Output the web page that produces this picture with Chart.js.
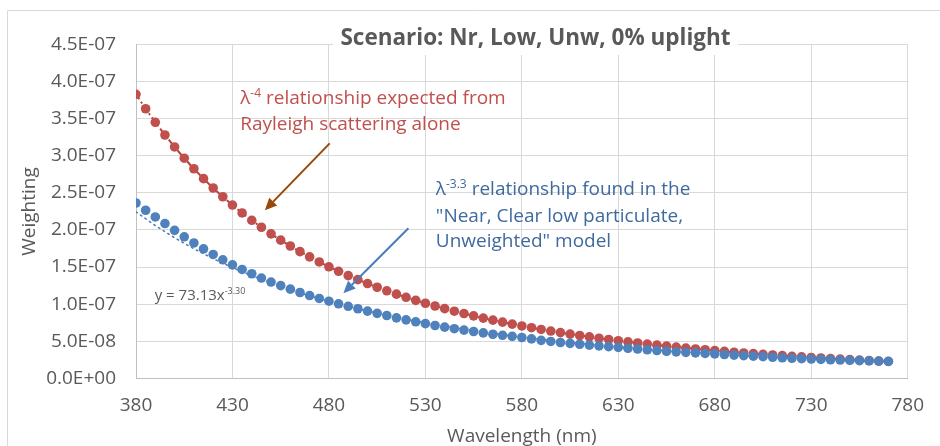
<!DOCTYPE html>
<html lang="en">
<head>
  <meta charset="UTF-8">
  <title>Scenario: Nr, Low, Unw, 0% uplight</title>
  <style>
    body {
      margin: 0;
      background: #fff;
    }
    #wrap {
      width: 940px;
      height: 446px;
    }
  </style>
</head>
<body>
  <div id="wrap">
    <canvas id="myChart" width="940" height="446"></canvas>
  </div>

  <script src="https://cdn.jsdelivr.net/npm/chart.js"></script>
  <script>
    // wavelengths (nm), one point every 5 nm
    const wavelengths = [];
    for (let w = 380; w <= 770; w += 5) wavelengths.push(w);

    // weighting values, in units of 1E-07
    const redWeights = [
      3.830, 3.635, 3.452, 3.281, 3.120, 2.968, 2.826, 2.692, 2.566, 2.448,
      2.336, 2.230, 2.131, 2.037, 1.948, 1.863, 1.784, 1.708, 1.637, 1.569,
      1.504, 1.443, 1.385, 1.330, 1.278, 1.228, 1.180, 1.135, 1.092, 1.051,
      1.012, 0.975, 0.939, 0.905, 0.873, 0.842, 0.812, 0.784, 0.757, 0.731,
      0.706, 0.682, 0.659, 0.637, 0.616, 0.596, 0.577, 0.558, 0.540, 0.523,
      0.507, 0.491, 0.476, 0.461, 0.447, 0.434, 0.421, 0.408, 0.396, 0.385,
      0.374, 0.363, 0.352, 0.342, 0.333, 0.323, 0.314, 0.306, 0.297, 0.289,
      0.281, 0.274, 0.266, 0.259, 0.252, 0.246, 0.239, 0.233, 0.227
    ];
    const blueWeights = [
      2.364, 2.266, 2.176, 2.087, 1.995, 1.908, 1.825, 1.745, 1.670, 1.598,
      1.530, 1.468, 1.410, 1.352, 1.298, 1.250, 1.202, 1.157, 1.116, 1.077,
      1.040, 1.005, 0.971, 0.938, 0.906, 0.876, 0.846, 0.815, 0.788, 0.762,
      0.737, 0.712, 0.690, 0.669, 0.650, 0.631, 0.612, 0.594, 0.580, 0.566,
      0.550, 0.532, 0.512, 0.497, 0.483, 0.471, 0.459, 0.448, 0.437, 0.427,
      0.417, 0.405, 0.395, 0.384, 0.374, 0.365, 0.357, 0.350, 0.343, 0.336,
      0.329, 0.321, 0.313, 0.306, 0.299, 0.292, 0.284, 0.277, 0.270, 0.265,
      0.260, 0.255, 0.250, 0.246, 0.243, 0.239, 0.236, 0.232, 0.229
    ];

    // power trendline y = 73.13x^-3.30, read every 10 nm (units of 1E-07)
    const trendWavelengths = [];
    for (let w = 380; w <= 770; w += 10) trendWavelengths.push(w);
    const blueTrend = [
      2.245, 2.059, 1.895, 1.747, 1.613, 1.493, 1.384, 1.285, 1.195, 1.113,
      1.039, 0.970, 0.908, 0.850, 0.797, 0.749, 0.704, 0.663, 0.624, 0.589,
      0.556, 0.526, 0.497, 0.471, 0.446, 0.423, 0.402, 0.382, 0.363, 0.345,
      0.329, 0.314, 0.299, 0.285, 0.273, 0.260, 0.249, 0.238, 0.228, 0.218
    ];

    const xTicks = [380, 430, 480, 530, 580, 630, 680, 730, 780];
    const yUnit = 1e-7;

    const GREY = '#595959';
    const FONT = '"Open Sans", sans-serif';

    function sciLabel(v) {
      const val = v * yUnit;
      if (Math.abs(val) < 1e-15) return '0.0E+00';
      let e = Math.floor(Math.log10(Math.abs(val)) + 1e-9);
      let m = Math.round(val / Math.pow(10, e) * 10) / 10;
      if (m >= 10) { m /= 10; e++; }
      return m.toFixed(1) + 'E' + (e < 0 ? '-' : '+') + String(Math.abs(e)).padStart(2, '0');
    }

    function pts(xs, ys) {
      return xs.map((x, i) => ({ x: x, y: ys[i] }));
    }

    // text with a superscript part: [base, sup, rest]
    function supText(ctx, x, y, base, sup, rest, size, color) {
      ctx.fillStyle = color;
      ctx.textBaseline = 'alphabetic';
      ctx.textAlign = 'left';
      ctx.font = size + 'px ' + FONT;
      ctx.fillText(base, x, y);
      x += ctx.measureText(base).width;
      ctx.font = Math.round(size * 0.62) + 'px ' + FONT;
      ctx.fillText(sup, x, y - size * 0.38);
      x += ctx.measureText(sup).width;
      ctx.font = size + 'px ' + FONT;
      ctx.fillText(rest, x, y);
    }

    function arrow(ctx, x1, y1, x2, y2, color) {
      const a = Math.atan2(y2 - y1, x2 - x1);
      const len = 12, half = 5.5;
      const bx = x2 - len * Math.cos(a), by = y2 - len * Math.sin(a);
      ctx.strokeStyle = color;
      ctx.fillStyle = color;
      ctx.lineWidth = 2;
      ctx.beginPath();
      ctx.moveTo(x1, y1);
      ctx.lineTo(bx, by);
      ctx.stroke();
      ctx.beginPath();
      ctx.moveTo(x2, y2);
      ctx.lineTo(bx + half * Math.sin(a), by - half * Math.cos(a));
      ctx.lineTo(bx - half * Math.sin(a), by + half * Math.cos(a));
      ctx.closePath();
      ctx.fill();
    }

    const decorations = {
      id: 'decorations',
      beforeDraw(chart) {
        const ctx = chart.ctx;
        ctx.save();
        ctx.fillStyle = '#fff';
        ctx.fillRect(0, 0, chart.width, chart.height);
        ctx.strokeStyle = '#d9d9d9';
        ctx.lineWidth = 1;
        ctx.beginPath();
        ctx.moveTo(7.5, chart.height + 5);
        ctx.lineTo(7.5, 10.5);
        ctx.lineTo(chart.width + 5, 10.5);
        ctx.stroke();
        ctx.restore();
      },
      afterDraw(chart) {
        const ctx = chart.ctx;
        const xs = chart.scales.x, ys = chart.scales.y;
        const area = chart.chartArea;
        const px = v => xs.getPixelForValue(v);
        const py = v => ys.getPixelForValue(v);
        ctx.save();

        // title with its white box over the grid
        ctx.fillStyle = '#fff';
        ctx.fillRect(333, 18, 405, 37);
        ctx.fillStyle = GREY;
        ctx.font = 'bold 22.5px ' + FONT;
        ctx.textAlign = 'center';
        ctx.textBaseline = 'alphabetic';
        ctx.fillText('Scenario: Nr, Low, Unw, 0% uplight', 535.5, 45);

        // axis titles
        ctx.font = '19px ' + FONT;
        ctx.textBaseline = 'middle';
        ctx.fillText('Wavelength (nm)', (area.left + area.right) / 2, 437);
        ctx.save();
        ctx.translate(30, (area.top + area.bottom) / 2);
        ctx.rotate(-Math.PI / 2);
        ctx.fillText('Weighting', 0, 0);
        ctx.restore();

        // annotations
        const red = '#c0504d', blue = '#3f6a9e';
        supText(ctx, px(434), py(3.787) + 7, '\u03bb', '-4', ' relationship expected from', 19, red);
        ctx.fillText('Rayleigh scattering alone', px(434), py(3.437) + 7);
        arrow(ctx, px(480.4), py(3.168), px(446.8), py(2.266), '#984807');

        supText(ctx, px(535.4), py(2.563) + 7, '\u03bb', '-3.3', ' relationship found in the', 19, blue);
        ctx.fillText('"Near, Clear low particulate,', px(535.4), py(2.199) + 7);
        ctx.fillText('Unweighted" model', px(535.4), py(1.862) + 7);
        arrow(ctx, px(521.2), py(2.023), px(487.5), py(1.148), '#4a7ebb');

        supText(ctx, px(389.7), py(1.121) + 5, 'y = 73.13x', '-3.30', '', 15, GREY);
        ctx.restore();
      }
    };

    const ctx = document.getElementById('myChart').getContext('2d');
    new Chart(ctx, {
      type: 'line',
      data: {
        datasets: [
          {
            label: 'Near, Clear low particulate, Unweighted',
            data: pts(wavelengths, blueWeights),
            showLine: false,
            pointRadius: 4.8,
            pointBorderWidth: 0,
            pointBackgroundColor: '#4f81bd',
            order: 0
          },
          {
            label: 'Rayleigh',
            data: pts(wavelengths, redWeights),
            showLine: false,
            pointRadius: 4.8,
            pointBorderWidth: 0,
            pointBackgroundColor: '#c0504d',
            order: 1
          },
          {
            label: 'Power trend (blue)',
            data: pts(trendWavelengths, blueTrend),
            borderColor: '#4f81bd',
            borderWidth: 1.6,
            borderDash: [1.5, 4],
            borderCapStyle: 'round',
            pointRadius: 0,
            order: 2
          },
          {
            label: 'Power trend (red)',
            data: pts(wavelengths, redWeights),
            borderColor: '#b8413e',
            borderWidth: 2,
            borderDash: [6, 3, 2, 3],
            pointRadius: 0,
            order: 3
          }
        ]
      },
      options: {
        responsive: false,
        animation: false,
        layout: { padding: { left: 0, right: 19, top: 44.6, bottom: 0 } },
        plugins: {
          legend: { display: false },
          tooltip: { enabled: false }
        },
        scales: {
          x: {
            type: 'linear',
            min: 380,
            max: 780,
            afterBuildTicks: s => { s.ticks = xTicks.map(v => ({ value: v })); },
            afterFit: s => { s.height = 446 - 378.3; },
            grid: { color: '#d9d9d9', drawTicks: false },
            border: { color: '#bfbfbf' },
            ticks: { color: GREY, font: { family: FONT, size: 19 }, padding: 16, maxRotation: 0 }
          },
          y: {
            min: 0,
            max: 4.5,
            afterFit: s => { s.width = 136; },
            grid: { color: '#d9d9d9', drawTicks: false },
            border: { color: '#bfbfbf' },
            ticks: {
              stepSize: 0.5,
              color: GREY,
              font: { family: FONT, size: 19 },
              padding: 20,
              callback: v => sciLabel(v)
            }
          }
        }
      },
      plugins: [decorations]
    });
  </script>
</body>
</html>
